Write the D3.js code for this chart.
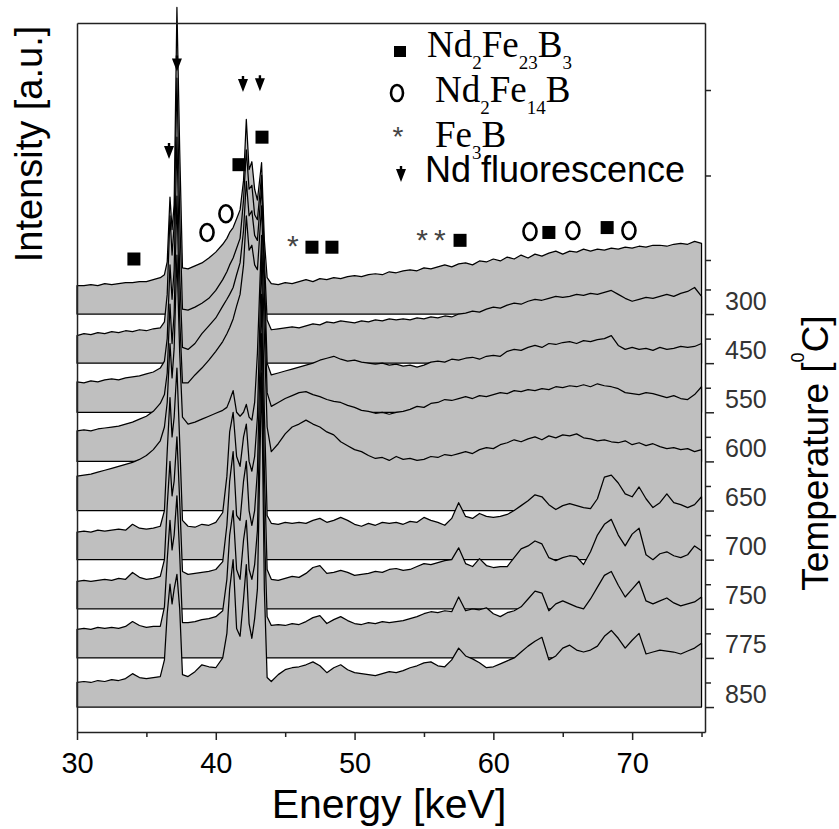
<!DOCTYPE html>
<html>
<head>
<meta charset="utf-8">
<script src="https://cdn.jsdelivr.net/npm/d3@7"></script>
<style>
  body { margin: 0; background: #fff; }
  svg { display: block; }
</style>
</head>
<body>
<svg id="chart" width="839" height="829"></svg>
<script>
// energy grid shared by all spectra (keV)
const energy = [
  30, 30.5, 31, 31.5, 32, 32.5, 33, 33.5, 34, 34.5, 35, 35.5, 36,
  36.3, 36.5, 36.7, 36.85, 37, 37.2, 37.4, 37.6,
  38, 38.5, 39, 39.5, 40, 40.5,
  40.8, 41, 41.25, 41.5, 41.75, 42, 42.2, 42.4, 42.6, 42.8, 43, 43.3, 43.5, 43.7,
  44, 44.5, 45, 45.5, 46, 46.5, 47, 47.5, 48, 48.5, 49, 49.5, 50, 50.5, 51, 51.5,
  52, 52.5, 53, 53.5, 54, 54.5, 55, 55.5, 56, 56.5, 57, 57.5, 58, 58.5, 59, 59.5,
  60, 60.5, 61, 61.5, 62, 62.5, 63, 63.5, 64, 64.5, 65, 65.5, 66, 66.5, 67, 67.5,
  68, 68.5, 69, 69.5, 70, 70.5, 71, 71.5, 72, 72.5, 73, 73.5, 74, 74.5, 75
]

const temperatures = ['300', '450', '550', '600', '650', '700', '750', '775', '850']

// intensities above each spectrum's own baseline (a.u.)
const spectrum300 = [
  29, 29, 30, 29, 31, 30, 31, 32, 32, 33, 33, 35, 37,
  40, 53, 119, 86, 111, 312, 167, 47,
  46, 49, 52, 57, 63, 71,
  77, 83, 88, 97, 106, 136, 198, 147, 155, 127, 116, 154, 75, 37,
  31, 30, 32, 31, 33, 35, 33, 36, 35, 37, 36, 38, 39, 38, 40, 41, 40, 43, 42, 44,
  45, 44, 47, 46, 48, 50, 48, 51, 52, 50, 54, 53, 56, 54, 58, 56, 60, 57, 61, 59,
  62, 64, 61, 64, 63, 66, 64, 66, 65, 67, 66, 68, 67, 69, 68, 70, 70, 69, 71, 72,
  71, 74, 72
]
const spectrum450 = [
  28, 30, 29, 31, 30, 32, 31, 33, 32, 34, 33, 35, 36,
  42, 70, 150, 110, 140, 290, 150, 55,
  54, 57, 61, 66, 74, 85,
  93, 100, 107, 117, 127, 166, 217, 177, 181, 151, 146, 191, 105, 44,
  34, 35, 36, 37, 36, 38, 40, 39, 42, 41, 43, 42, 41, 43, 42, 44, 43, 45, 44, 45,
  44, 46, 45, 47, 46, 48, 47, 50, 51, 53, 52, 55, 57, 56, 59, 61, 60, 63, 65, 64,
  66, 68, 67, 68, 70, 69, 71, 70, 72, 74, 70, 66, 63, 65, 67, 66, 68, 70, 68, 71,
  73, 77, 68
]
const spectrum550 = [
  31, 30, 32, 31, 33, 34, 33, 35, 36, 37, 39, 41, 45,
  52, 75, 150, 115, 145, 280, 140, 66,
  64, 70, 80, 88, 96, 108,
  115, 120, 127, 140, 152, 185, 235, 200, 205, 180, 175, 230, 140, 50,
  38, 40, 42, 44, 46, 48, 50, 53, 55, 57, 54, 52, 53, 51, 50, 49, 50, 48, 49, 47,
  48, 46, 48, 51, 52, 51, 54, 53, 55, 56, 54, 57, 58, 57, 62, 64, 63, 66, 68, 66,
  70, 69, 71, 72, 70, 73, 72, 74, 75, 78, 68, 64, 66, 64, 65, 63, 66, 64, 65, 67,
  66, 67, 70
]
const spectrum600 = [
  31, 32, 31, 33, 34, 35, 36, 38, 40, 43, 46, 51, 59,
  68, 90, 160, 120, 150, 270, 145, 80,
  80, 88, 95, 103, 112, 122,
  130, 136, 145, 158, 170, 200, 250, 215, 220, 200, 195, 260, 170, 70,
  56, 60, 64, 67, 70, 71, 68, 66, 63, 61, 60, 57, 55, 52, 51, 49, 50, 48, 50, 51,
  53, 56, 55, 59, 60, 63, 62, 64, 66, 64, 67, 66, 68, 70, 69, 72, 71, 73, 72, 74,
  73, 76, 75, 77, 76, 78, 76, 79, 77, 76, 74, 70, 69, 68, 70, 69, 67, 65, 67, 64,
  63, 68, 76
]
const spectrum650 = [
  35, 36, 37, 39, 41, 43, 45, 47, 49, 52, 56, 62, 71,
  85, 110, 170, 135, 165, 260, 160, 95,
  88, 90, 93, 96, 99, 102,
  105, 112, 122, 100, 96, 100, 108, 95, 92, 110, 160, 280, 180, 85,
  60, 68, 78, 85, 88, 92, 88, 85, 80, 77, 70, 66, 62, 60, 56, 53, 54, 51, 55, 52,
  53, 51, 52, 55, 54, 57, 56, 58, 60, 58, 62, 64, 63, 67, 69, 72, 70, 73, 75, 72,
  76, 74, 77, 76, 78, 74, 73, 71, 72, 70, 69, 71, 67, 69, 66, 68, 65, 63, 64, 62,
  63, 60, 62
]
const spectrum700 = [
  28, 29, 28, 30, 29, 30, 31, 30, 36, 32, 31, 32, 34,
  50, 110, 165, 125, 145, 195, 120, 40,
  34, 33, 36, 35, 38, 48,
  85, 130, 150, 105, 95, 125, 138, 100, 90, 105, 145, 310, 150, 45,
  37, 36, 38, 37, 38, 37, 40, 42, 38, 40, 43, 40, 36, 34, 37, 35, 38, 37, 38, 36,
  39, 38, 43, 40, 38, 35, 42, 58, 44, 42, 47, 44, 43, 44, 46, 50, 55, 60, 66, 64,
  56, 51, 55, 57, 55, 53, 52, 62, 84, 86, 78, 67, 64, 74, 62, 53, 58, 67, 58, 56,
  53, 56, 64
]
const spectrum750 = [
  28, 29, 28, 29, 30, 29, 31, 30, 37, 32, 30, 31, 33,
  50, 105, 150, 115, 130, 175, 110, 38,
  35, 36, 37, 38, 40, 48,
  85, 130, 160, 95, 90, 130, 150, 100, 85, 100, 140, 320, 140, 40,
  30, 29, 31, 33, 32, 36, 42, 44, 36, 37, 39, 37, 34, 35, 36, 38, 37, 40, 41, 39,
  40, 43, 46, 45, 47, 49, 50, 62, 46, 43, 51, 44, 42, 43, 43, 52, 61, 64, 69, 66,
  52, 49, 52, 54, 53, 45, 58, 75, 86, 91, 75, 64, 76, 82, 55, 50, 56, 58, 54, 52,
  55, 64, 59
]
const spectrum775 = [
  29, 30, 29, 31, 30, 31, 30, 32, 37, 33, 31, 32, 32,
  52, 100, 140, 110, 125, 165, 105, 36,
  36, 37, 39, 40, 42, 48,
  80, 125, 150, 90, 80, 120, 140, 90, 80, 95, 130, 330, 130, 42,
  33, 34, 33, 35, 34, 37, 41, 43, 35, 39, 42, 38, 35, 34, 36, 35, 37, 36, 37, 38,
  40, 42, 45, 47, 46, 48, 47, 62, 48, 50, 49, 51, 45, 42, 46, 48, 52, 60, 68, 66,
  48, 55, 58, 55, 52, 50, 60, 72, 84, 88, 74, 62, 70, 78, 58, 55, 58, 61, 56, 53,
  55, 57, 62
]
const spectrum850 = [
  25, 26, 25, 27, 26, 28, 27, 29, 34, 30, 29, 30, 31,
  48, 95, 125, 105, 120, 135, 100, 33,
  31, 36, 43, 41, 40, 50,
  75, 120, 150, 80, 72, 110, 145, 85, 70, 90, 120, 340, 120, 30,
  26, 33, 38, 40, 41, 43, 46, 42, 35, 40, 43, 38, 35, 34, 33, 32, 34, 36, 35, 37,
  40, 42, 45, 46, 42, 41, 48, 60, 52, 49, 45, 40, 41, 44, 47, 50, 56, 62, 67, 71,
  48, 52, 60, 63, 58, 56, 58, 62, 72, 78, 70, 60, 68, 75, 54, 56, 58, 57, 56, 54,
  57, 60, 65
]

const spectra = [spectrum300, spectrum450, spectrum550, spectrum600, spectrum650,
  spectrum700, spectrum750, spectrum775, spectrum850]

const xTicks = [30, 40, 50, 60, 70]
const xMinorTicks = [35, 45, 55, 65, 75]
const rightMinorTicks = [25, 75, 125, 175, 225, 275, 325, 375, 425, 455, 541, 628]

// peak markers [keV, a.u.]
const squareMarks = [[34.1, 456], [41.67, 552], [43.33, 580], [46.93, 468], [48.37, 468],
  [57.6, 475], [64.0, 483], [68.2, 488]]
const circleMarks = [[39.37, 483], [40.73, 502], [62.64, 484], [65.73, 485], [69.77, 485]]
const starMarks = [[45.56, 475], [54.86, 481], [56.15, 481]]
const triangleMarks = [[36.63, 566], [37.2, 655], [41.96, 634], [43.18, 635]]

const legendLabels = [
  [['Nd', 0], ['2', 1], ['Fe', 0], ['23', 1], ['B', 0], ['3', 1]],
  [['Nd', 0], ['2', 1], ['Fe', 0], ['14', 1], ['B', 0]],
  [['Fe', 0], ['3', 1], ['B', 0]],
  [['Nd fluorescence', 0]]
]

const sans = '"Liberation Sans", Arial, Helvetica, sans-serif'
const serif = '"Liberation Serif", "Times New Roman", serif'
const step = 50

const svg = d3.select('#chart')
const x = d3.scaleLinear().domain([30, 75.25]).range([77, 705])
const y = d3.scaleLinear().domain([-25.4, 696.2]).range([732, 23])

// stacked spectra, top one first so the lower ones cover it
const area = d3.area()
  .x((d) => x(d[0]))
  .y0((d) => y(d[2]))
  .y1((d) => y(d[1]))

const layers = svg.append('g').classed('spectra', true)
spectra.forEach((values, i) => {
  const base = (spectra.length - 1 - i) * step
  const points = energy.map((e, j) => [e, base + values[j], base])
  layers.append('path')
    .datum(points)
    .attr('d', area)
    .attr('fill', '#bfbfbf')
    .attr('stroke', '#000')
    .attr('stroke-width', 1.25)
    .attr('stroke-linejoin', 'round')
})

// axes
const bottomAxis = svg.append('g')
  .classed('axis', true)
  .attr('transform', 'translate(0,732)')
  .call(d3.axisBottom(x).tickValues(xTicks).tickSize(8).tickSizeOuter(0)
    .tickPadding(12).tickFormat(d3.format('d')))
bottomAxis.selectAll('text')
  .attr('font-size', 29)
  .attr('font-family', sans)
  .attr('fill', '#000')
svg.append('g')
  .classed('axis', true)
  .attr('transform', 'translate(0,732)')
  .call(d3.axisBottom(x).tickValues(xMinorTicks).tickSize(5).tickFormat(''))
  .select('.domain').remove()

svg.append('g')
  .classed('axis', true)
  .attr('transform', 'translate(0,23)')
  .call(d3.axisTop(x).tickValues([]).tickSizeOuter(0))
svg.append('g')
  .classed('axis', true)
  .attr('transform', 'translate(77,0)')
  .call(d3.axisLeft(y).tickValues([]).tickSizeOuter(0))

const baselines = temperatures.map((t, i) => (temperatures.length - 1 - i) * step)
const rightAxis = svg.append('g')
  .classed('axis', true)
  .attr('transform', 'translate(705,0)')
  .call(d3.axisRight(y).tickValues(baselines).tickSize(9).tickSizeOuter(0).tickPadding(11)
    .tickFormat((d) => temperatures[temperatures.length - 1 - d / step]))
rightAxis.selectAll('text')
  .attr('font-size', 25)
  .attr('font-family', sans)
  .attr('fill', '#333')
  .attr('dy', '-0.2em')
svg.append('g')
  .classed('axis', true)
  .attr('transform', 'translate(705,0)')
  .call(d3.axisRight(y).tickValues(rightMinorTicks).tickSize(6).tickFormat(''))
  .select('.domain').remove()

svg.selectAll('g.axis')
  .attr('color', '#222')
svg.selectAll('g.axis path.domain, g.axis g.tick line')
  .attr('stroke-width', 1.5)

// axis titles
svg.append('text')
  .text('Energy [keV]')
  .attr('x', 389)
  .attr('y', 818)
  .attr('text-anchor', 'middle')
  .attr('font-size', 41)
  .attr('font-family', sans)
svg.append('text')
  .text('Intensity [a.u.]')
  .attr('transform', 'translate(42,144) rotate(-90)')
  .attr('text-anchor', 'middle')
  .attr('font-size', 38)
  .attr('font-family', sans)
const tempTitle = svg.append('text')
  .attr('transform', 'translate(828,453) rotate(-90)')
  .attr('text-anchor', 'middle')
  .attr('font-size', 37)
  .attr('font-family', sans)
tempTitle.append('tspan').text('Temperature [')
tempTitle.append('tspan').text('0').attr('font-size', 18).attr('dy', -24)
tempTitle.append('tspan').text('C]').attr('dy', 24)

// peak markers
const triangle = 'M-5,-5L5,-5L0,8Z M-1.2,-8h2.4v3h-2.4Z'
const marks = svg.append('g').classed('marks', true)
marks.selectAll('rect')
  .data(squareMarks)
  .join('rect')
  .attr('x', (d) => x(d[0]) - 6.5)
  .attr('y', (d) => y(d[1]) - 6.5)
  .attr('width', 13)
  .attr('height', 13)
  .attr('fill', '#000')
marks.selectAll('ellipse')
  .data(circleMarks)
  .join('ellipse')
  .attr('cx', (d) => x(d[0]))
  .attr('cy', (d) => y(d[1]))
  .attr('rx', 6.5)
  .attr('ry', 8.5)
  .attr('fill', 'none')
  .attr('stroke', '#000')
  .attr('stroke-width', 2.6)
marks.selectAll('text')
  .data(starMarks)
  .join('text')
  .text('*')
  .attr('x', (d) => x(d[0]))
  .attr('y', (d) => y(d[1]) + 16)
  .attr('text-anchor', 'middle')
  .attr('font-size', 30)
  .attr('font-family', sans)
  .attr('fill', '#444')
marks.selectAll('path')
  .data(triangleMarks)
  .join('path')
  .attr('d', triangle)
  .attr('transform', (d) => 'translate(' + x(d[0]) + ',' + y(d[1]) + ')')
  .attr('fill', '#000')

// legend
const legend = svg.append('g').classed('legend', true)
legend.append('rect')
  .attr('x', 394).attr('y', 46).attr('width', 12).attr('height', 11)
  .attr('fill', '#000')
legend.append('ellipse')
  .attr('cx', 397).attr('cy', 93).attr('rx', 6).attr('ry', 8)
  .attr('fill', 'none').attr('stroke', '#000').attr('stroke-width', 2.6)
legend.append('text')
  .text('*')
  .attr('x', 398).attr('y', 146)
  .attr('text-anchor', 'middle')
  .attr('font-size', 28)
  .attr('font-family', sans)
  .attr('fill', '#444')
legend.append('path')
  .attr('d', triangle)
  .attr('transform', 'translate(401,174)')
  .attr('fill', '#000')

const rows = [[427, 57, serif], [435, 102, serif], [435, 147, serif], [425, 182, sans]]
legendLabels.forEach((parts, i) => {
  const [lx, ly, family] = rows[i]
  const label = legend.append('text')
    .attr('x', lx)
    .attr('y', ly)
    .attr('font-family', family)
    .attr('font-size', family === serif ? 37 : 36)
  parts.forEach(([t, sub]) => {
    label.append('tspan')
      .text(t)
      .attr('y', sub ? ly + 12 : ly)
      .attr('font-size', sub ? 19 : null)
  })
})
</script>
</body>
</html>
